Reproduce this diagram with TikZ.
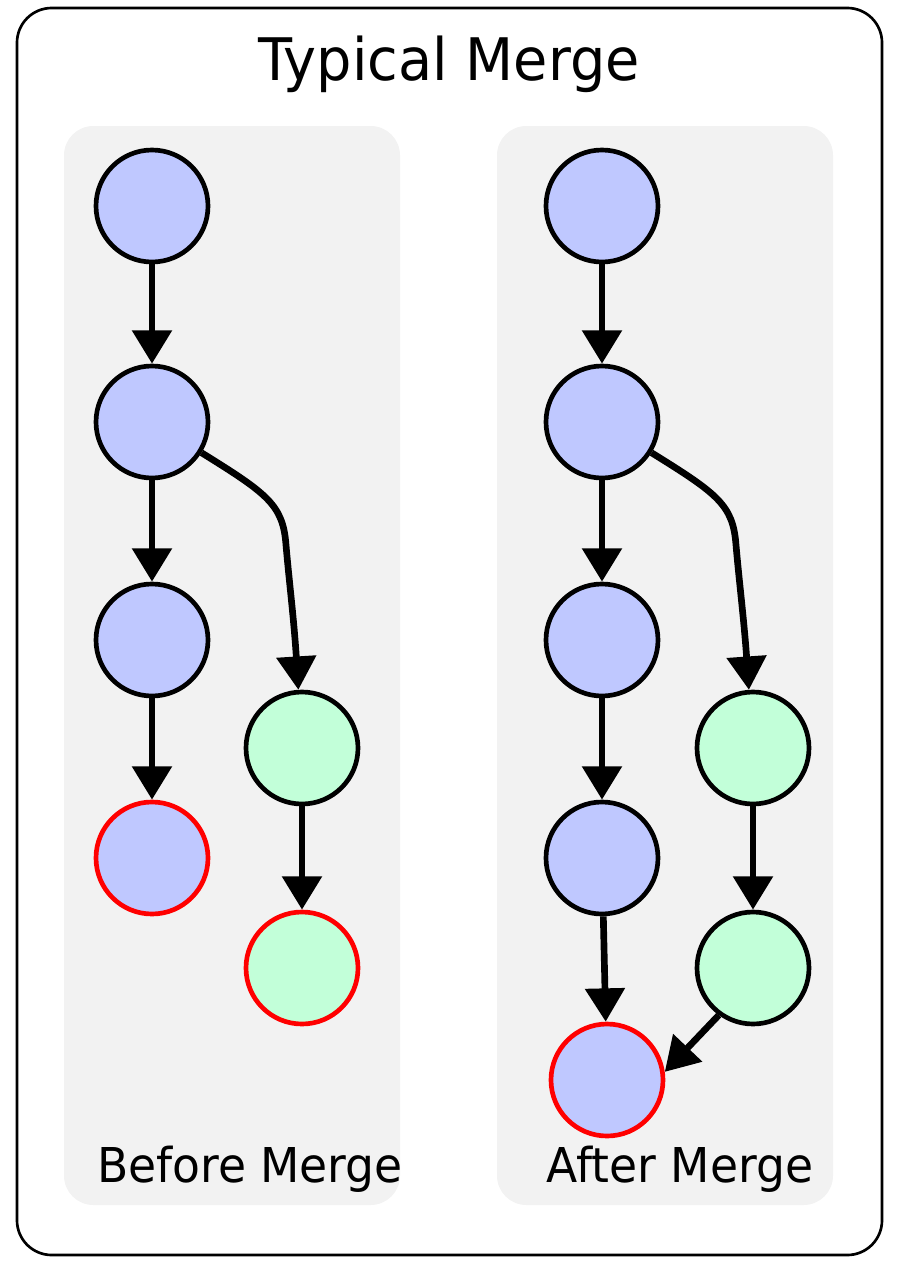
\documentclass[tikz,border=0pt]{standalone}
\usepackage{fontspec}
\setmainfont[FakeStretch=0.95]{DejaVu Sans}
\usepackage{xcolor}
\usetikzlibrary{arrows.meta,positioning}
\definecolor{commitblue}{HTML}{BFC8FF}
\definecolor{commitgreen}{HTML}{C2FFD9}
\definecolor{panelgray}{HTML}{F2F2F2}

\begin{document}
\begin{tikzpicture}[x=0.75pt,y=-0.75pt,
		commit/.style={
			% The shape:
			circle,minimum size=84pt,inner sep=0pt,
			% The rest
			line width=3.5pt,draw=black},
		master/.style={commit,fill=commitblue},
		topic/.style={commit,fill=commitgreen},
		head/.style={draw=red},
		parent/.style={-{Triangle[length=25pt,width=29pt]},line width=5pt},
		panel/.style={fill=panelgray,rounded corners=22pt},
		caption/.style={font=\fontsize{36}{40}\selectfont,anchor=base}]
		\useasboundingbox (0,0) rectangle (904,1270);
		\draw[line width=2pt,rounded corners=26pt] (17,8) rectangle (882,1255);
		\fill[panel] (64,126) rectangle (400,1205);
		\fill[panel] (497,126) rectangle (833,1205);
		\node (title) [anchor=base,font=\fontsize{44}{50}\selectfont] at (449,80) {Typical Merge};

		% Before merge
		\node (bm_c1)	[master]	at (152,206)	{};
		\node (bm_c2)	[master]	at (152,422)	{};
		\node (bm_c3)	[master]	at (152,640)	{};
		\node (bm_c4)	[master,head]	at (152,858)	{};
		\node (bm_g1)	[topic]		at (302,748)	{};
		\node (bm_g2)	[topic,head]	at (302,968)	{};
		\node (bm_text)	[caption]	at (250,1182)	{Before Merge};

		\path	(bm_c1)	edge[parent]	(bm_c2)
				(bm_c2)	edge[parent]	(bm_c3)
				(bm_c3)	edge[parent]	(bm_c4)
				(bm_g1)	edge[parent]	(bm_g2);
		\draw[parent] (bm_c2) .. controls (268,494) and (283,505) .. (286,545)
			.. controls (289,580) and (294,620) .. (bm_g1);

		% After merge
		\node (am_c1)	[master]	at (602,206)	{};
		\node (am_c2)	[master]	at (602,422)	{};
		\node (am_c3)	[master]	at (602,640)	{};
		\node (am_c4)	[master]	at (602,858)	{};
		\node (am_c5)	[master,head]	at (607,1080)	{};
		\node (am_g1)	[topic]		at (753,748)	{};
		\node (am_g2)	[topic]		at (753,968)	{};
		\node (am_text)	[caption]	at (680,1182)	{After Merge};

		\path	(am_c1)	edge[parent]	(am_c2)
				(am_c2)	edge[parent]	(am_c3)
				(am_c3)	edge[parent]	(am_c4)
				(am_c4)	edge[parent]	(am_c5)
				(am_g1)	edge[parent]	(am_g2)
				(am_g2.-126)	edge[parent]	(am_c5.8);
		\draw[parent] (am_c2) .. controls (718,494) and (733,505) .. (736,545)
			.. controls (739,580) and (744,620) .. (am_g1);
	\end{tikzpicture}
\end{document}
